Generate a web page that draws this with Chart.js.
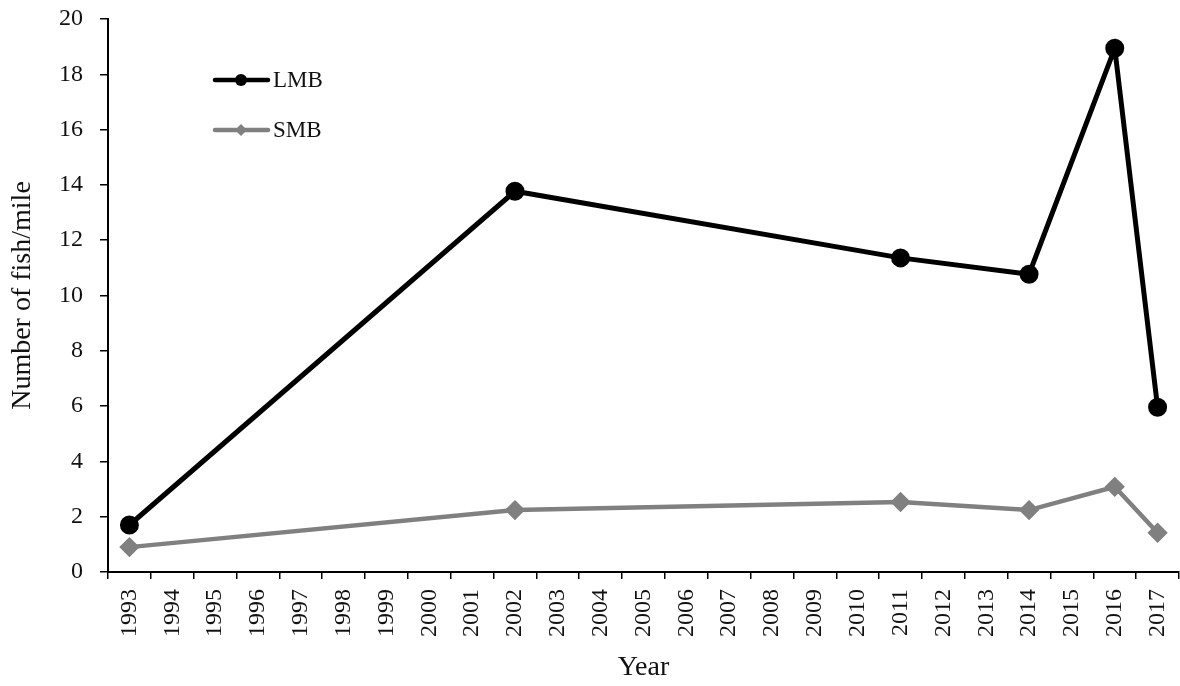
<!DOCTYPE html>
<html><head><meta charset="utf-8">
<script src="https://cdn.jsdelivr.net/npm/chart.js@4"></script>
<style>html,body{margin:0;padding:0;background:#fff;overflow:hidden}#w{width:1180px;height:686px;overflow:hidden}</style>
</head><body><div id="w"><canvas id="c" width="1191" height="686"></canvas></div>
<script>
const years = ["1993","1994","1995","1996","1997","1998","1999","2000","2001","2002","2003","2004","2005","2006","2007","2008","2009","2010","2011","2012","2013","2014","2015","2016","2017"];
const lmb = [1.7,null,null,null,null,null,null,null,null,13.77,null,null,null,null,null,null,null,null,11.36,null,null,10.77,null,18.94,5.96];
const smb = [0.9,null,null,null,null,null,null,null,null,2.24,null,null,null,null,null,null,null,null,2.53,null,null,2.24,null,3.08,1.42];
const yTicks = [0,2,4,6,8,10,12,14,16,18,20];
const FONT = "'Liberation Serif', 'Times New Roman', serif";

const legendPlugin = {
  id: 'inlegend',
  afterDraw(chart) {
    const ctx = chart.ctx;
    const items = [{ds:0,y:80,lw:4.5},{ds:1,y:130,lw:4.5}];
    items.forEach(it => {
      const d = chart.data.datasets[it.ds];
      ctx.save();
      ctx.strokeStyle = d.borderColor; ctx.lineWidth = it.lw; ctx.lineCap = 'round';
      ctx.beginPath(); ctx.moveTo(215, it.y); ctx.lineTo(268, it.y); ctx.stroke();
      ctx.fillStyle = d.pointBackgroundColor;
      ctx.beginPath();
      if (d.pointStyle === 'circle') ctx.arc(241, it.y, 6, 0, Math.PI*2);
      else { const r = 6; ctx.moveTo(241, it.y-r); ctx.lineTo(241+r, it.y); ctx.lineTo(241, it.y+r); ctx.lineTo(241-r, it.y); ctx.closePath(); }
      ctx.fill();
      ctx.fillStyle = '#111'; ctx.font = "23px " + FONT; ctx.textBaseline = 'middle'; ctx.textAlign = 'left';
      ctx.fillText(d.label, 273, it.y + 1);
      ctx.restore();
    });
  }
};

new Chart(document.getElementById('c'), {
  type: 'line',
  data: {
    labels: years,
    datasets: [
      {label: 'LMB', data: lmb, borderColor: '#000', backgroundColor: '#000', pointBackgroundColor: '#000', pointBorderColor: '#000', borderWidth: 5, pointRadius: 7, pointStyle: 'circle', spanGaps: true, tension: 0},
      {label: 'SMB', data: smb, borderColor: '#808080', backgroundColor: '#808080', pointBackgroundColor: '#808080', pointBorderColor: '#808080', borderWidth: 4.5, pointRadius: 7, pointStyle: 'rectRot', spanGaps: true, tension: 0}
    ]
  },
  options: {
    responsive: false, animation: false, devicePixelRatio: 1,
    layout: {padding: {left: 0, right: 1, top: 19, bottom: 0}},
    plugins: {legend: {display: false}, tooltip: {enabled: false}},
    scales: {
      x: {
        offset: true,
        grid: {display: true, drawOnChartArea: false, drawTicks: true, tickLength: 7, color: '#000', offset: true, lineWidth: 1.5},
        border: {display: true, color: '#000', width: 2},
        ticks: {color: '#111', font: {family: FONT, size: 24}, minRotation: 90, maxRotation: 90, autoSkip: false, padding: 10},
        title: {display: true, text: 'Year', color: '#111', font: {family: FONT, size: 28}, padding: {top: 0, bottom: 2}},
        afterFit(s) { s.height = 114; s.paddingLeft = 0; s.paddingRight = 0; }
      },
      y: {
        min: 0, max: 20,
        afterBuildTicks(s) { s.ticks = yTicks.map(v => ({value: v})); },
        grid: {display: true, drawOnChartArea: false, drawTicks: true, tickLength: 8, color: '#000', lineWidth: 1.5},
        border: {display: true, color: '#000', width: 2},
        ticks: {color: '#111', font: {family: FONT, size: 24}, padding: 17},
        title: {display: true, text: 'Number of fish/mile', color: '#111', font: {family: FONT, size: 28}, padding: {top: 6, bottom: 0}},
        afterFit(s) { s.width = 108; s.paddingTop = 0; s.paddingBottom = 0; }
      }
    }
  },
  plugins: [legendPlugin]
});
</script></body></html>
